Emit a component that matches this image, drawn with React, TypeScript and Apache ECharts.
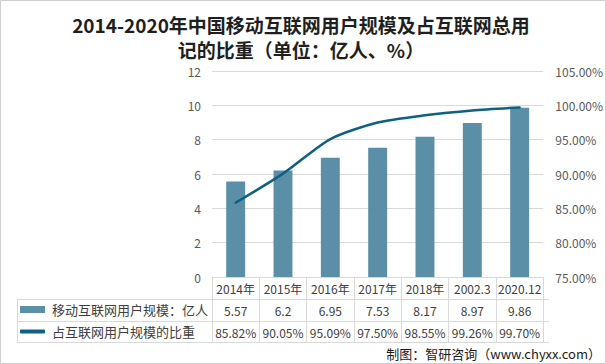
import React, { useEffect, useRef } from "react";
import * as echarts from "echarts";

const categories = ["2014年", "2015年", "2016年", "2017年", "2018年", "2002.3", "2020.12"];
const userScale = [5.57, 6.2, 6.95, 7.53, 8.17, 8.97, 9.86];
const shareOfUsers = [85.82, 90.05, 95.09, 97.5, 98.55, 99.26, 99.7];
const scaleLabels = ["5.57", "6.2", "6.95", "7.53", "8.17", "8.97", "9.86"];
const shareLabels = ["85.82%", "90.05%", "95.09%", "97.50%", "98.55%", "99.26%", "99.70%"];
const seriesNames = ["移动互联网用户规模：亿人", "占互联网用户规模的比重"];
const titleLines = ["2014-2020年中国移动互联网用户规模及占互联网总用", "记的比重（单位：亿人、%）"];
const sourceText = "制图：智研咨询（www.chyxx.com）";

const FONT = "'Noto Sans CJK SC', 'Microsoft YaHei', sans-serif";
const W = 606;
const H = 364;
const GL = 212;
const GR = 549;
const GT = 71;
const GB = 277;
const BAR = "#5b8fa7";
const LINE = "#0e6084";
const GRID = "#d9d9d9";
const TXT = "#404040";

export default function App() {
  const ref = useRef<HTMLDivElement>(null);
  useEffect(() => {
    document.body.style.margin = "0";
    const chart = echarts.init(ref.current!, undefined, { renderer: "svg" });
    const rowAxis = (data: string[], offset: number) => ({
      type: "category",
      data,
      gridIndex: 0,
      position: "bottom",
      offset,
      axisLine: { show: false },
      axisTick: { show: false },
      splitLine: { show: false },
      axisLabel: { interval: 0, margin: 5, fontSize: 12, color: TXT, fontFamily: FONT },
    });
    chart.setOption({
      animation: false,
      backgroundColor: "#ffffff",
      grid: { left: GL, right: W - GR, top: GT, bottom: H - GB, containLabel: false },
      legend: [
        {
          data: [{ name: seriesNames[0], icon: "rect" }],
          left: 20,
          top: 303,
          padding: 0,
          itemWidth: 25,
          itemHeight: 7,
          textStyle: { fontSize: 13, color: TXT, fontFamily: FONT, padding: [0, 0, 0, 2] },
        },
        {
          data: [{ name: seriesNames[1], icon: "roundRect" }],
          left: 20,
          top: 325,
          padding: 0,
          itemWidth: 25,
          itemHeight: 4,
          itemStyle: { color: LINE },
          textStyle: { fontSize: 13, color: TXT, fontFamily: FONT, padding: [0, 0, 0, 2] },
        },
      ],
      xAxis: [
        {
          type: "category",
          data: categories,
          axisLine: { show: true, lineStyle: { color: GRID, width: 1 } },
          axisTick: { show: true, length: 66, lineStyle: { color: GRID, width: 1 } },
          axisLabel: { interval: 0, margin: 5, fontSize: 12, color: TXT, fontFamily: FONT },
        },
        rowAxis(scaleLabels, 22),
        rowAxis(shareLabels, 44),
      ],
      yAxis: [
        {
          type: "value",
          min: 0,
          max: 12,
          interval: 2,
          axisLine: { show: false },
          axisTick: { show: false },
          splitLine: { lineStyle: { color: GRID, width: 1 } },
          axisLabel: { margin: 11, fontSize: 12, color: "#595959", fontFamily: FONT },
        },
        {
          type: "value",
          min: 75,
          max: 105,
          interval: 5,
          position: "right",
          axisLine: { show: false },
          axisTick: { show: false },
          splitLine: { show: false },
          axisLabel: {
            margin: 12,
            fontSize: 12,
            color: "#595959",
            fontFamily: FONT,
            formatter: (v: number) => v.toFixed(2) + "%",
          },
        },
      ],
      series: [
        {
          name: seriesNames[0],
          type: "bar",
          data: userScale,
          barWidth: "40%",
          itemStyle: { color: BAR },
          xAxisIndex: 0,
          yAxisIndex: 0,
        },
        {
          name: seriesNames[1],
          type: "line",
          data: shareOfUsers,
          xAxisIndex: 0,
          yAxisIndex: 1,
          smooth: 0.25,
          showSymbol: false,
          symbol: "none",
          itemStyle: { color: LINE },
          lineStyle: { color: LINE, width: 2.5, cap: "round" },
        },
      ],
      graphic: [
        {
          type: "rect",
          shape: { x: 0.5, y: 0.5, width: W - 1, height: H - 1 },
          style: { fill: "none", stroke: "#cfcfcf", lineWidth: 1 },
          silent: true,
        },
        ...[299, 321, 342].map((y) => ({
          type: "line",
          shape: { x1: 17, y1: y + 0.5, x2: GR, y2: y + 0.5 },
          style: { stroke: GRID, lineWidth: 1 },
          silent: true,
        })),
        {
          type: "line",
          shape: { x1: 17.5, y1: 299, x2: 17.5, y2: 343 },
          style: { stroke: GRID, lineWidth: 1 },
          silent: true,
        },
        ...titleLines.map((t, i) => ({
          type: "text",
          x: 301,
          y: 24 + i * 25,
          style: {
            text: t,
            align: "center",
            verticalAlign: "middle",
            fontSize: 19,
            fontWeight: "bold",
            fontFamily: FONT,
            fill: "#1f1f1f",
          },
          silent: true,
        })),
        {
          type: "text",
          x: 601,
          y: 353,
          style: {
            text: sourceText,
            align: "right",
            verticalAlign: "middle",
            fontSize: 13,
            fontFamily: FONT,
            fill: "#1a1a1a",
          },
          silent: true,
        },
      ],
    });
    return () => chart.dispose();
  }, []);
  return <div ref={ref} style={{ width: W, height: H, position: "fixed", left: 0, top: 0 }} />;
}
